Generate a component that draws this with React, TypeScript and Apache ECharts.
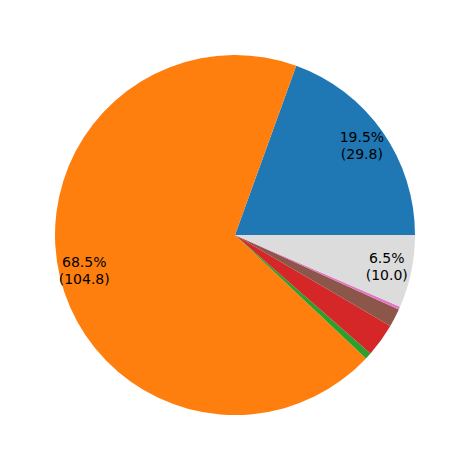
import * as echarts from 'echarts';
import React, { useEffect, useRef } from 'react';

// 조각 이름과 값 (반시계 방향, 3시 방향부터)
const categories = ['A', 'B', 'C', 'D', 'E', 'F', 'Other'];
const values = [29.8, 104.8, 0.9, 4.6, 2.5, 0.4, 10.0];
const colors = ['#1f77b4', '#ff7f0e', '#2ca02c', '#d62728', '#8c564b', '#e377c2', '#dcdcdc'];

export default function App() {
  const chartRef = useRef<HTMLDivElement>(null);

  useEffect(() => {
    const chart = echarts.init(chartRef.current, null, { renderer: 'svg' });
    const total = values.reduce((a, b) => a + b, 0);

    const option = {
      animation: false,
      series: [
        {
          type: 'pie',
          center: [235, 235],
          radius: [0, 180],
          startAngle: 0,
          clockwise: false,
          silent: true,
          itemStyle: { borderWidth: 0 },
          label: { show: false },
          labelLine: { show: false },
          data: categories.map((name, i) => ({
            name,
            value: values[i],
            itemStyle: { color: colors[i] },
          })),
        },
        {
          // 라벨 전용 투명 파이 (반지름 0.85 위치)
          type: 'pie',
          center: [235, 235],
          radius: [124, 180],
          startAngle: 0,
          clockwise: false,
          silent: true,
          itemStyle: { color: 'rgba(0,0,0,0)', borderWidth: 0 },
          label: {
            show: true,
            position: 'inside',
            rotate: 0,
            color: '#000',
            fontFamily: 'DejaVu Sans',
            fontSize: 14,
            lineHeight: 17,
            align: 'center',
            formatter: (p: any) => {
              const pct = (p.value / total) * 100;
              if (pct < 5) return '';
              return `${pct.toFixed(1)}%\n(${p.value.toFixed(1)})`;
            },
          },
          labelLine: { show: false },
          data: categories.map((name, i) => ({ name, value: values[i] })),
        },
      ],
    };

    chart.setOption(option);
    return () => {
      chart.dispose();
    };
  }, []);

  return (
    <div style={{ position: 'fixed', left: 0, top: 0, width: 469, height: 470, background: '#fff' }}>
      <div ref={chartRef} style={{ width: 469, height: 470 }} />
    </div>
  );
}
